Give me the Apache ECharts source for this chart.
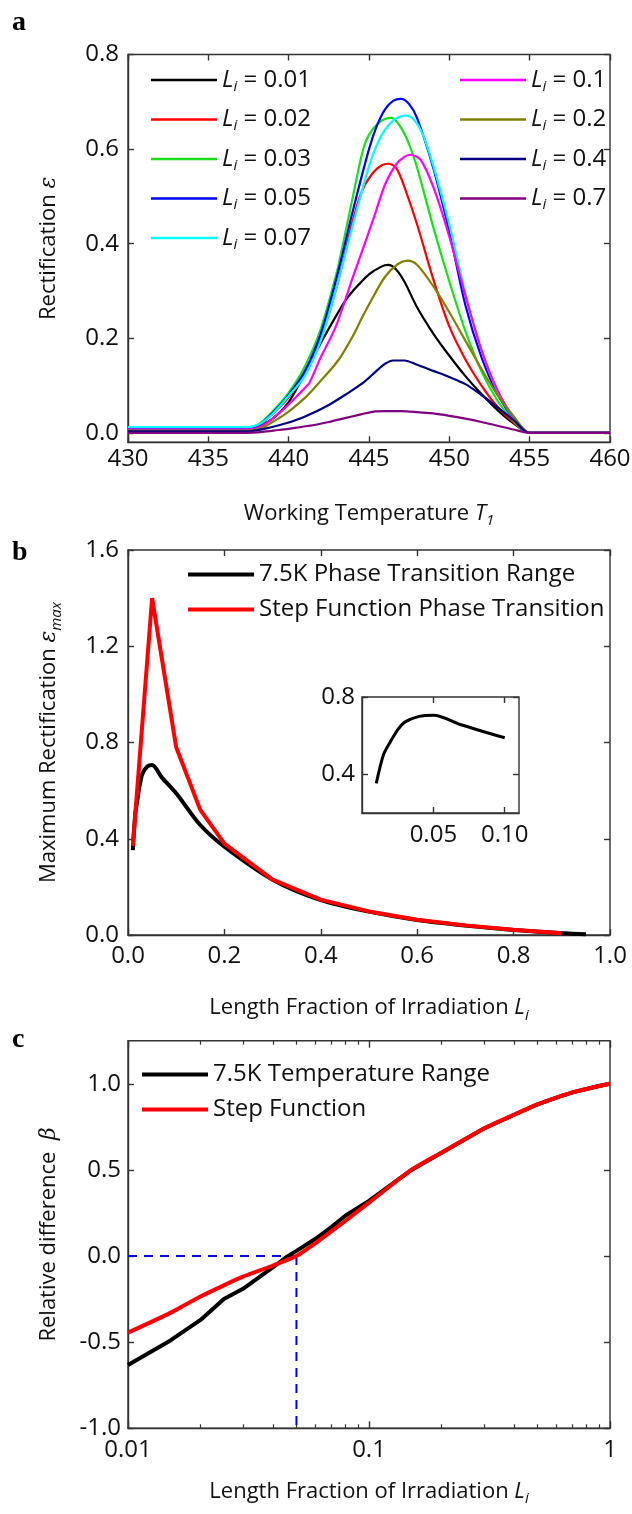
<!DOCTYPE html>
<html>
<head>
<meta charset="utf-8">
<script src="https://cdn.jsdelivr.net/npm/echarts@6/dist/echarts.min.js"></script>
<style>
  html, body { margin: 0; padding: 0; background: #ffffff; }
  #chart { width: 632px; height: 1514px; }
</style>
</head>
<body>
<div id="chart"></div>
<script>
// ---------- Panel a: rectification vs. working temperature ----------
const tempTicks = [430, 435, 440, 445, 450, 455, 460];
const rectTicks = [0, 0.2, 0.4, 0.6, 0.8];
const liLabels = ['0.01', '0.02', '0.03', '0.05', '0.07', '0.1', '0.2', '0.4', '0.7'];

// [T1, rectification] pairs for each irradiation fraction
const rectLi001 = [[430,0.007],[437.5,0.007],[438.2,0.015],[439,0.03],[440,0.065],[441,0.125],[442,0.19],[443,0.25],[443.56,0.281],[444,0.3],[445,0.335],[445.8,0.352],[446.2,0.355],[446.7,0.345],[447.2,0.32],[448,0.265],[449,0.21],[450,0.163],[451,0.12],[452,0.082],[453,0.048],[454,0.02],[455,0],[456,0],[460,0]];
const rectLi002 = [[430,0.009],[437.5,0.009],[438.2,0.018],[439,0.04],[440,0.075],[441,0.125],[442,0.2],[443,0.31],[444,0.45],[444.6,0.514],[445.3,0.552],[445.8,0.566],[446.2,0.569],[446.7,0.56],[447.2,0.52],[448,0.44],[449,0.325],[450,0.225],[451,0.155],[452,0.1],[453,0.055],[454,0.022],[455,0],[456,0],[460,0]];
const rectLi003 = [[430,0.012],[437.5,0.012],[438.2,0.02],[439,0.045],[440,0.085],[441,0.14],[442,0.22],[443,0.34],[443.35,0.394],[444,0.5],[444.6,0.595],[445,0.63],[445.7,0.658],[446.4,0.666],[447,0.645],[447.5,0.61],[448,0.56],[449,0.435],[450,0.32],[451,0.215],[452,0.13],[453,0.068],[454,0.025],[455,0],[456,0],[460,0]];
const rectLi005 = [[430,0.01],[437.5,0.01],[438.2,0.018],[439,0.042],[440,0.08],[441,0.13],[442,0.21],[443,0.33],[444,0.47],[445,0.6],[445.5,0.65],[446,0.684],[446.5,0.702],[447,0.706],[447.5,0.695],[448,0.665],[449,0.56],[450,0.425],[451,0.27],[452,0.16],[453,0.082],[454,0.03],[455,0],[456,0],[460,0]];
const rectLi007 = [[430,0.012],[437.5,0.012],[438.2,0.019],[439,0.04],[440,0.078],[441,0.12],[442,0.195],[443,0.31],[444,0.44],[445,0.564],[445.5,0.61],[446,0.641],[446.6,0.663],[447.3,0.671],[447.8,0.662],[448.3,0.635],[449,0.565],[450,0.44],[451,0.295],[452,0.175],[453,0.088],[454,0.032],[455,0],[456,0],[460,0]];
const rectLi01  = [[430,0.007],[437.5,0.007],[438.3,0.014],[439,0.03],[440,0.06],[441,0.095],[441.28,0.105],[442,0.16],[442.94,0.225],[444,0.33],[444.6,0.387],[445.4,0.465],[446,0.525],[446.8,0.572],[447.56,0.588],[448.2,0.578],[449,0.52],[450,0.415],[451,0.29],[452,0.175],[453,0.09],[454,0.033],[455,0],[456,0],[460,0]];
const rectLi02  = [[430,0.005],[437.5,0.005],[438.3,0.01],[439.2,0.027],[440,0.045],[441.08,0.076],[442,0.11],[443.1,0.154],[444,0.205],[444.6,0.246],[445.3,0.29],[446,0.33],[446.8,0.357],[447.4,0.364],[448,0.355],[449,0.31],[450,0.255],[451,0.195],[452,0.135],[453,0.08],[454,0.035],[455,0],[456,0],[460,0]];
const rectLi04  = [[430,0.003],[437.5,0.003],[438.4,0.008],[439.4,0.016],[440.46,0.027],[441.5,0.042],[442.5,0.059],[443.5,0.08],[444.6,0.105],[445.5,0.132],[446,0.146],[446.5,0.153],[447.2,0.153],[448,0.144],[449,0.131],[450,0.118],[451,0.103],[452,0.08],[453,0.054],[454,0.027],[455,0],[456,0],[460,0]];
const rectLi07  = [[430,0],[437.5,0],[439.4,0.006],[440.5,0.011],[441.5,0.016],[442.5,0.023],[443.5,0.031],[444.5,0.039],[445.3,0.045],[446,0.046],[447,0.046],[448,0.044],[449,0.041],[450,0.036],[451,0.03],[452,0.023],[453,0.015],[454,0.007],[455,0],[456,0],[460,0]];

// ---------- Panel b: maximum rectification vs. irradiated length fraction ----------
const fracTicks = [0, 0.2, 0.4, 0.6, 0.8, 1.0];
const epsMaxTicks = [0, 0.4, 0.8, 1.2, 1.6];
const liRange = [0.01, 0.015, 0.02, 0.025, 0.03, 0.04, 0.05, 0.07, 0.1, 0.15, 0.2, 0.3, 0.4, 0.5, 0.6, 0.7, 0.8, 0.9, 0.95];
const epsRange = [0.353, 0.5, 0.57, 0.63, 0.67, 0.70, 0.706, 0.655, 0.589, 0.457, 0.367, 0.23, 0.145, 0.097, 0.062, 0.039, 0.021, 0.008, 0.003];
const liStep = [0.01, 0.05, 0.1, 0.15, 0.2, 0.3, 0.4, 0.5, 0.6, 0.7, 0.8, 0.9];
const epsStep = [0.37, 1.40, 0.78, 0.52, 0.38, 0.23, 0.147, 0.098, 0.063, 0.04, 0.022, 0.007];
// inset: close-up of the 7.5K curve for small fractions
const insetFracTicks = [0.05, 0.10];
const insetEpsTicks = [0.4, 0.8];

// ---------- Panel c: relative difference vs. irradiated length fraction ----------
const logTicks = [0.01, 0.1, 1];
const betaTicks = [-1.0, -0.5, 0.0, 0.5, 1.0];
const liBetaRange = [0.01, 0.015, 0.02, 0.025, 0.03, 0.04, 0.045, 0.05, 0.06, 0.07, 0.08, 0.1, 0.15, 0.2, 0.3, 0.4, 0.5, 0.6, 0.7, 0.8, 0.9, 1.0];
const betaRange = [-0.632, -0.49, -0.371, -0.25, -0.19, -0.065, -0.01, 0.03, 0.1, 0.17, 0.235, 0.32, 0.5, 0.6, 0.74, 0.82, 0.88, 0.92, 0.95, 0.97, 0.987, 1.0];
const liBetaStep = [0.01, 0.015, 0.02, 0.025, 0.03, 0.04, 0.05, 0.06, 0.07, 0.08, 0.1, 0.15, 0.2, 0.3, 0.4, 0.5, 0.6, 0.7, 0.8, 0.9, 1.0];
const betaStep = [-0.445, -0.33, -0.235, -0.17, -0.12, -0.055, 0.0, 0.075, 0.145, 0.205, 0.31, 0.5, 0.6, 0.74, 0.82, 0.88, 0.92, 0.95, 0.97, 0.987, 1.0];
const zeroCrossLi = 0.05;

// ---------- styling ----------
const FONT = 'Open Sans';
const AX = '#333333';
const curveColors = ['#000000', '#ff0000', '#19e019', '#0000ff', '#00ffff', '#ff00ff', '#808000', '#000080', '#800080'];
const rectCurves = [rectLi001, rectLi002, rectLi003, rectLi005, rectLi007, rectLi01, rectLi02, rectLi04, rectLi07];

const zip = (xs, ys) => xs.map((x, i) => [x, ys[i]]);
const fmt1 = v => v.toFixed(1);

// log-axis minor tick positions (2..9 per decade)
const minorLog = [];
[0.01, 0.1].forEach(d => { for (let k = 2; k <= 9; k++) minorLog.push(+(d * k).toPrecision(3)); });

const labelStyle = { fontFamily: FONT, fontSize: 24, color: '#111' };
const nameRich = {
  n: { fontFamily: FONT, fontSize: 22, color: '#111', lineHeight: 30 },
  i: { fontFamily: FONT, fontSize: 22, fontStyle: 'italic', color: '#111', lineHeight: 30 },
  e: { fontFamily: 'DejaVu Serif', fontSize: 22, fontStyle: 'italic', color: '#111', lineHeight: 30 },
  s: { fontFamily: FONT, fontSize: 15, fontStyle: 'italic', color: '#111', lineHeight: 15, verticalAlign: 'bottom' }
};

function axisBase(o) {
  return Object.assign({
    axisLine: { show: true, onZero: false, lineStyle: { color: AX, width: 1.4 } },
    axisTick: { show: true, inside: true, length: 6, lineStyle: { color: AX, width: 1.4 } },
    axisLabel: Object.assign({ show: true, margin: 10 }, labelStyle),
    splitLine: { show: false },
    axisPointer: { show: false }
  }, o);
}
function mirrorAxis(o) {
  return Object.assign({
    axisLine: { show: false, onZero: false },
    axisTick: { show: true, inside: true, length: 6, lineStyle: { color: AX, width: 1.4 } },
    axisLabel: { show: false },
    splitLine: { show: false },
    axisPointer: { show: false }
  }, o);
}
function gridBox(left, top, width, height) {
  return { left: left, top: top, width: width, height: height, show: true, borderColor: AX, borderWidth: 1.4,
           backgroundColor: 'transparent', containLabel: false, outerBoundsMode: 'none' };
}

const grids = [
  gridBox(128, 54.5, 482, 387.8),   // a
  gridBox(128, 550, 482, 385),      // b
  gridBox(362, 697, 157, 116),      // inset of b
  gridBox(128, 1040.7, 482, 387.6)  // c
];

const xAxes = [
  // a
  axisBase({ gridIndex: 0, type: 'value', min: 430, max: 460, interval: 5,
    axisLabel: Object.assign({ margin: 5 }, labelStyle),
    name: '{n|Working Temperature }{i|T}{s|1}', nameLocation: 'middle', nameGap: 56, nameTextStyle: { rich: nameRich } }),
  mirrorAxis({ gridIndex: 0, type: 'value', position: 'top', min: 430, max: 460, interval: 5 }),
  // b
  axisBase({ gridIndex: 1, type: 'value', min: 0, max: 1, interval: 0.2,
    axisLabel: Object.assign({ margin: 9, formatter: fmt1 }, labelStyle),
    name: '{n|Length Fraction of Irradiation }{i|L}{s|i}', nameLocation: 'middle', nameGap: 58, nameTextStyle: { rich: nameRich } }),
  mirrorAxis({ gridIndex: 1, type: 'value', position: 'top', min: 0, max: 1, interval: 0.2 }),
  // inset
  axisBase({ gridIndex: 2, type: 'value', min: 0, max: 0.11,
    axisTick: { show: true, inside: true, length: 6, customValues: insetFracTicks, lineStyle: { color: AX, width: 1.4 } },
    axisLabel: Object.assign({ margin: 10, customValues: insetFracTicks, formatter: v => v.toFixed(2) }, labelStyle) }),
  mirrorAxis({ gridIndex: 2, type: 'value', position: 'top', min: 0, max: 0.11,
    axisTick: { show: true, inside: true, length: 6, customValues: insetFracTicks, lineStyle: { color: AX, width: 1.4 } } }),
  // c (log scale) major ticks and labels
  axisBase({ gridIndex: 3, type: 'log', logBase: 10, min: 0.01, max: 1,
    axisTick: { show: true, inside: true, length: 7, customValues: logTicks, lineStyle: { color: AX, width: 1.4 } },
    axisLabel: Object.assign({ margin: 10, customValues: logTicks,
      formatter: v => ({ '-2': '0.01', '-1': '0.1', '0': '1' })[String(Math.round(Math.log10(v)))] }, labelStyle),
    name: '{n|Length Fraction of Irradiation }{i|L}{s|i}', nameLocation: 'middle', nameGap: 48, nameTextStyle: { rich: nameRich } }),
  // c minor ticks, bottom
  mirrorAxis({ gridIndex: 3, type: 'log', logBase: 10, min: 0.01, max: 1, position: 'bottom',
    axisTick: { show: true, inside: true, length: 4, customValues: minorLog, lineStyle: { color: AX, width: 1.2 } } }),
  // c top, major and minor
  mirrorAxis({ gridIndex: 3, type: 'log', logBase: 10, min: 0.01, max: 1, position: 'top',
    axisTick: { show: true, inside: true, length: 7, customValues: logTicks, lineStyle: { color: AX, width: 1.4 } } }),
  mirrorAxis({ gridIndex: 3, type: 'log', logBase: 10, min: 0.01, max: 1, position: 'top',
    axisTick: { show: true, inside: true, length: 4, customValues: minorLog, lineStyle: { color: AX, width: 1.2 } } })
];

const yAxes = [
  // a
  axisBase({ gridIndex: 0, type: 'value', min: -0.02, max: 0.8,
    axisTick: { show: true, inside: true, length: 6, customValues: rectTicks, lineStyle: { color: AX, width: 1.4 } },
    axisLabel: Object.assign({ margin: 9, customValues: rectTicks, formatter: fmt1 }, labelStyle),
    name: '{n|Rectification }{e|ε}', nameLocation: 'middle', nameGap: 64, nameTextStyle: { rich: nameRich } }),
  mirrorAxis({ gridIndex: 0, type: 'value', position: 'right', min: -0.02, max: 0.8,
    axisTick: { show: true, inside: true, length: 6, customValues: rectTicks, lineStyle: { color: AX, width: 1.4 } } }),
  // b
  axisBase({ gridIndex: 1, type: 'value', min: 0, max: 1.6, interval: 0.4,
    axisLabel: Object.assign({ margin: 9, formatter: fmt1 }, labelStyle),
    name: '{n|Maximum Rectification }{e|ε}{s|max}', nameLocation: 'middle', nameGap: 64, nameTextStyle: { rich: nameRich } }),
  mirrorAxis({ gridIndex: 1, type: 'value', position: 'right', min: 0, max: 1.6, interval: 0.4 }),
  // inset
  axisBase({ gridIndex: 2, type: 'value', min: 0.2, max: 0.8,
    axisTick: { show: true, inside: true, length: 6, customValues: insetEpsTicks, lineStyle: { color: AX, width: 1.4 } },
    axisLabel: Object.assign({ margin: 7, customValues: insetEpsTicks, formatter: fmt1 }, labelStyle) }),
  mirrorAxis({ gridIndex: 2, type: 'value', position: 'right', min: 0.2, max: 0.8,
    axisTick: { show: true, inside: true, length: 6, customValues: insetEpsTicks, lineStyle: { color: AX, width: 1.4 } } }),
  // c
  axisBase({ gridIndex: 3, type: 'value', min: -1, max: 1.25,
    axisTick: { show: true, inside: true, length: 6, customValues: betaTicks, lineStyle: { color: AX, width: 1.4 } },
    axisLabel: Object.assign({ margin: 7, customValues: betaTicks, formatter: fmt1 }, labelStyle),
    name: '{n|Relative difference  }{e|β}', nameLocation: 'middle', nameGap: 64, nameTextStyle: { rich: nameRich } }),
  mirrorAxis({ gridIndex: 3, type: 'value', position: 'right', min: -1, max: 1.25,
    axisTick: { show: true, inside: true, length: 6, customValues: betaTicks, lineStyle: { color: AX, width: 1.4 } } })
];

const series = [];
// panel a curves
liLabels.forEach((li, k) => {
  series.push({
    name: li, type: 'line', xAxisIndex: 0, yAxisIndex: 0,
    data: rectCurves[k], showSymbol: false, symbol: 'none', smooth: 0.3,
    lineStyle: { color: curveColors[k], width: 2.2 }, itemStyle: { color: curveColors[k] }, z: 3
  });
});
// panel b curves
series.push({
  name: '7.5K Phase Transition Range', type: 'line', xAxisIndex: 2, yAxisIndex: 2,
  data: zip(liRange, epsRange), symbol: 'none', smooth: 0.3,
  lineStyle: { color: '#000000', width: 4 }, itemStyle: { color: '#000000' }, z: 3
});
series.push({
  name: 'Step Function Phase Transition', type: 'line', xAxisIndex: 2, yAxisIndex: 2,
  data: zip(liStep, epsStep), symbol: 'none', smooth: false,
  lineStyle: { color: '#ff0000', width: 4 }, itemStyle: { color: '#ff0000' }, z: 4
});
// inset of b
series.push({
  name: 'inset', type: 'line', xAxisIndex: 4, yAxisIndex: 4,
  data: zip(liRange, epsRange).filter(p => p[0] <= 0.1), symbol: 'none', smooth: 0.3,
  lineStyle: { color: '#000000', width: 3 }, itemStyle: { color: '#000000' }, z: 3
});
// panel c curves
series.push({
  name: '7.5K Temperature Range', type: 'line', xAxisIndex: 6, yAxisIndex: 6,
  data: zip(liBetaRange, betaRange), symbol: 'none', smooth: false,
  lineStyle: { color: '#000000', width: 4 }, itemStyle: { color: '#000000' }, z: 3
});
series.push({
  name: 'Step Function', type: 'line', xAxisIndex: 6, yAxisIndex: 6,
  data: zip(liBetaStep, betaStep), symbol: 'none', smooth: 0.2,
  lineStyle: { color: '#ff0000', width: 4 }, itemStyle: { color: '#ff0000' }, z: 4
});
// dashed guides through the zero crossing
series.push({
  name: 'guideH', type: 'line', xAxisIndex: 6, yAxisIndex: 6,
  data: [[0.01, 0], [zeroCrossLi, 0]], symbol: 'none',
  lineStyle: { color: '#0000ff', width: 2, type: [9, 7] }, z: 2
});
series.push({
  name: 'guideV', type: 'line', xAxisIndex: 6, yAxisIndex: 6,
  data: [[zeroCrossLi, 0], [zeroCrossLi, -1]], symbol: 'none',
  lineStyle: { color: '#0000ff', width: 2, type: [9, 7] }, z: 2
});

const legendRich = {
  l: { fontFamily: FONT, fontSize: 24, fontStyle: 'italic', color: '#111', lineHeight: 28 },
  s: { fontFamily: FONT, fontSize: 15, fontStyle: 'italic', color: '#111', lineHeight: 15, verticalAlign: 'bottom' },
  n: { fontFamily: FONT, fontSize: 24, color: '#111', lineHeight: 28 }
};
const liFormatter = name => '{l|L}{s|i}{n| = ' + name + '}';
// legend keys are plain line segments
function legendBox(o, lineH) {
  return Object.assign({
    orient: 'vertical', selectedMode: false, icon: 'rect', itemWidth: 66, itemHeight: lineH
  }, o);
}

const legends = [
  legendBox({ left: 146, top: 63, itemGap: 13.5, data: liLabels.slice(0, 5), formatter: liFormatter,
    textStyle: { rich: legendRich } }, 2.5),
  legendBox({ left: 455, top: 63, itemGap: 13.5, data: liLabels.slice(5), formatter: liFormatter,
    textStyle: { rich: legendRich } }, 2.5),
  legendBox({ left: 183, top: 555, itemGap: 6, data: ['7.5K Phase Transition Range', 'Step Function Phase Transition'],
    textStyle: { fontFamily: FONT, fontSize: 24, color: '#111', lineHeight: 29 } }, 4),
  legendBox({ left: 137, top: 1055, itemGap: 6, data: ['7.5K Temperature Range', 'Step Function'],
    textStyle: { fontFamily: FONT, fontSize: 24, color: '#111', lineHeight: 29 } }, 4)
];

const panelLetter = (t, top) => ({
  type: 'text', left: 12, top: top,
  style: { text: t, font: 'bold 28px "Liberation Serif"', fill: '#000' }
});

const chart = echarts.init(document.getElementById('chart'), null, { renderer: 'canvas' });
chart.setOption({
  animation: false,
  backgroundColor: '#ffffff',
  grid: grids,
  xAxis: xAxes,
  yAxis: yAxes,
  legend: legends,
  series: series,
  graphic: [panelLetter('a', 9), panelLetter('b', 539), panelLetter('c', 1026)]
});
</script>
</body>
</html>
